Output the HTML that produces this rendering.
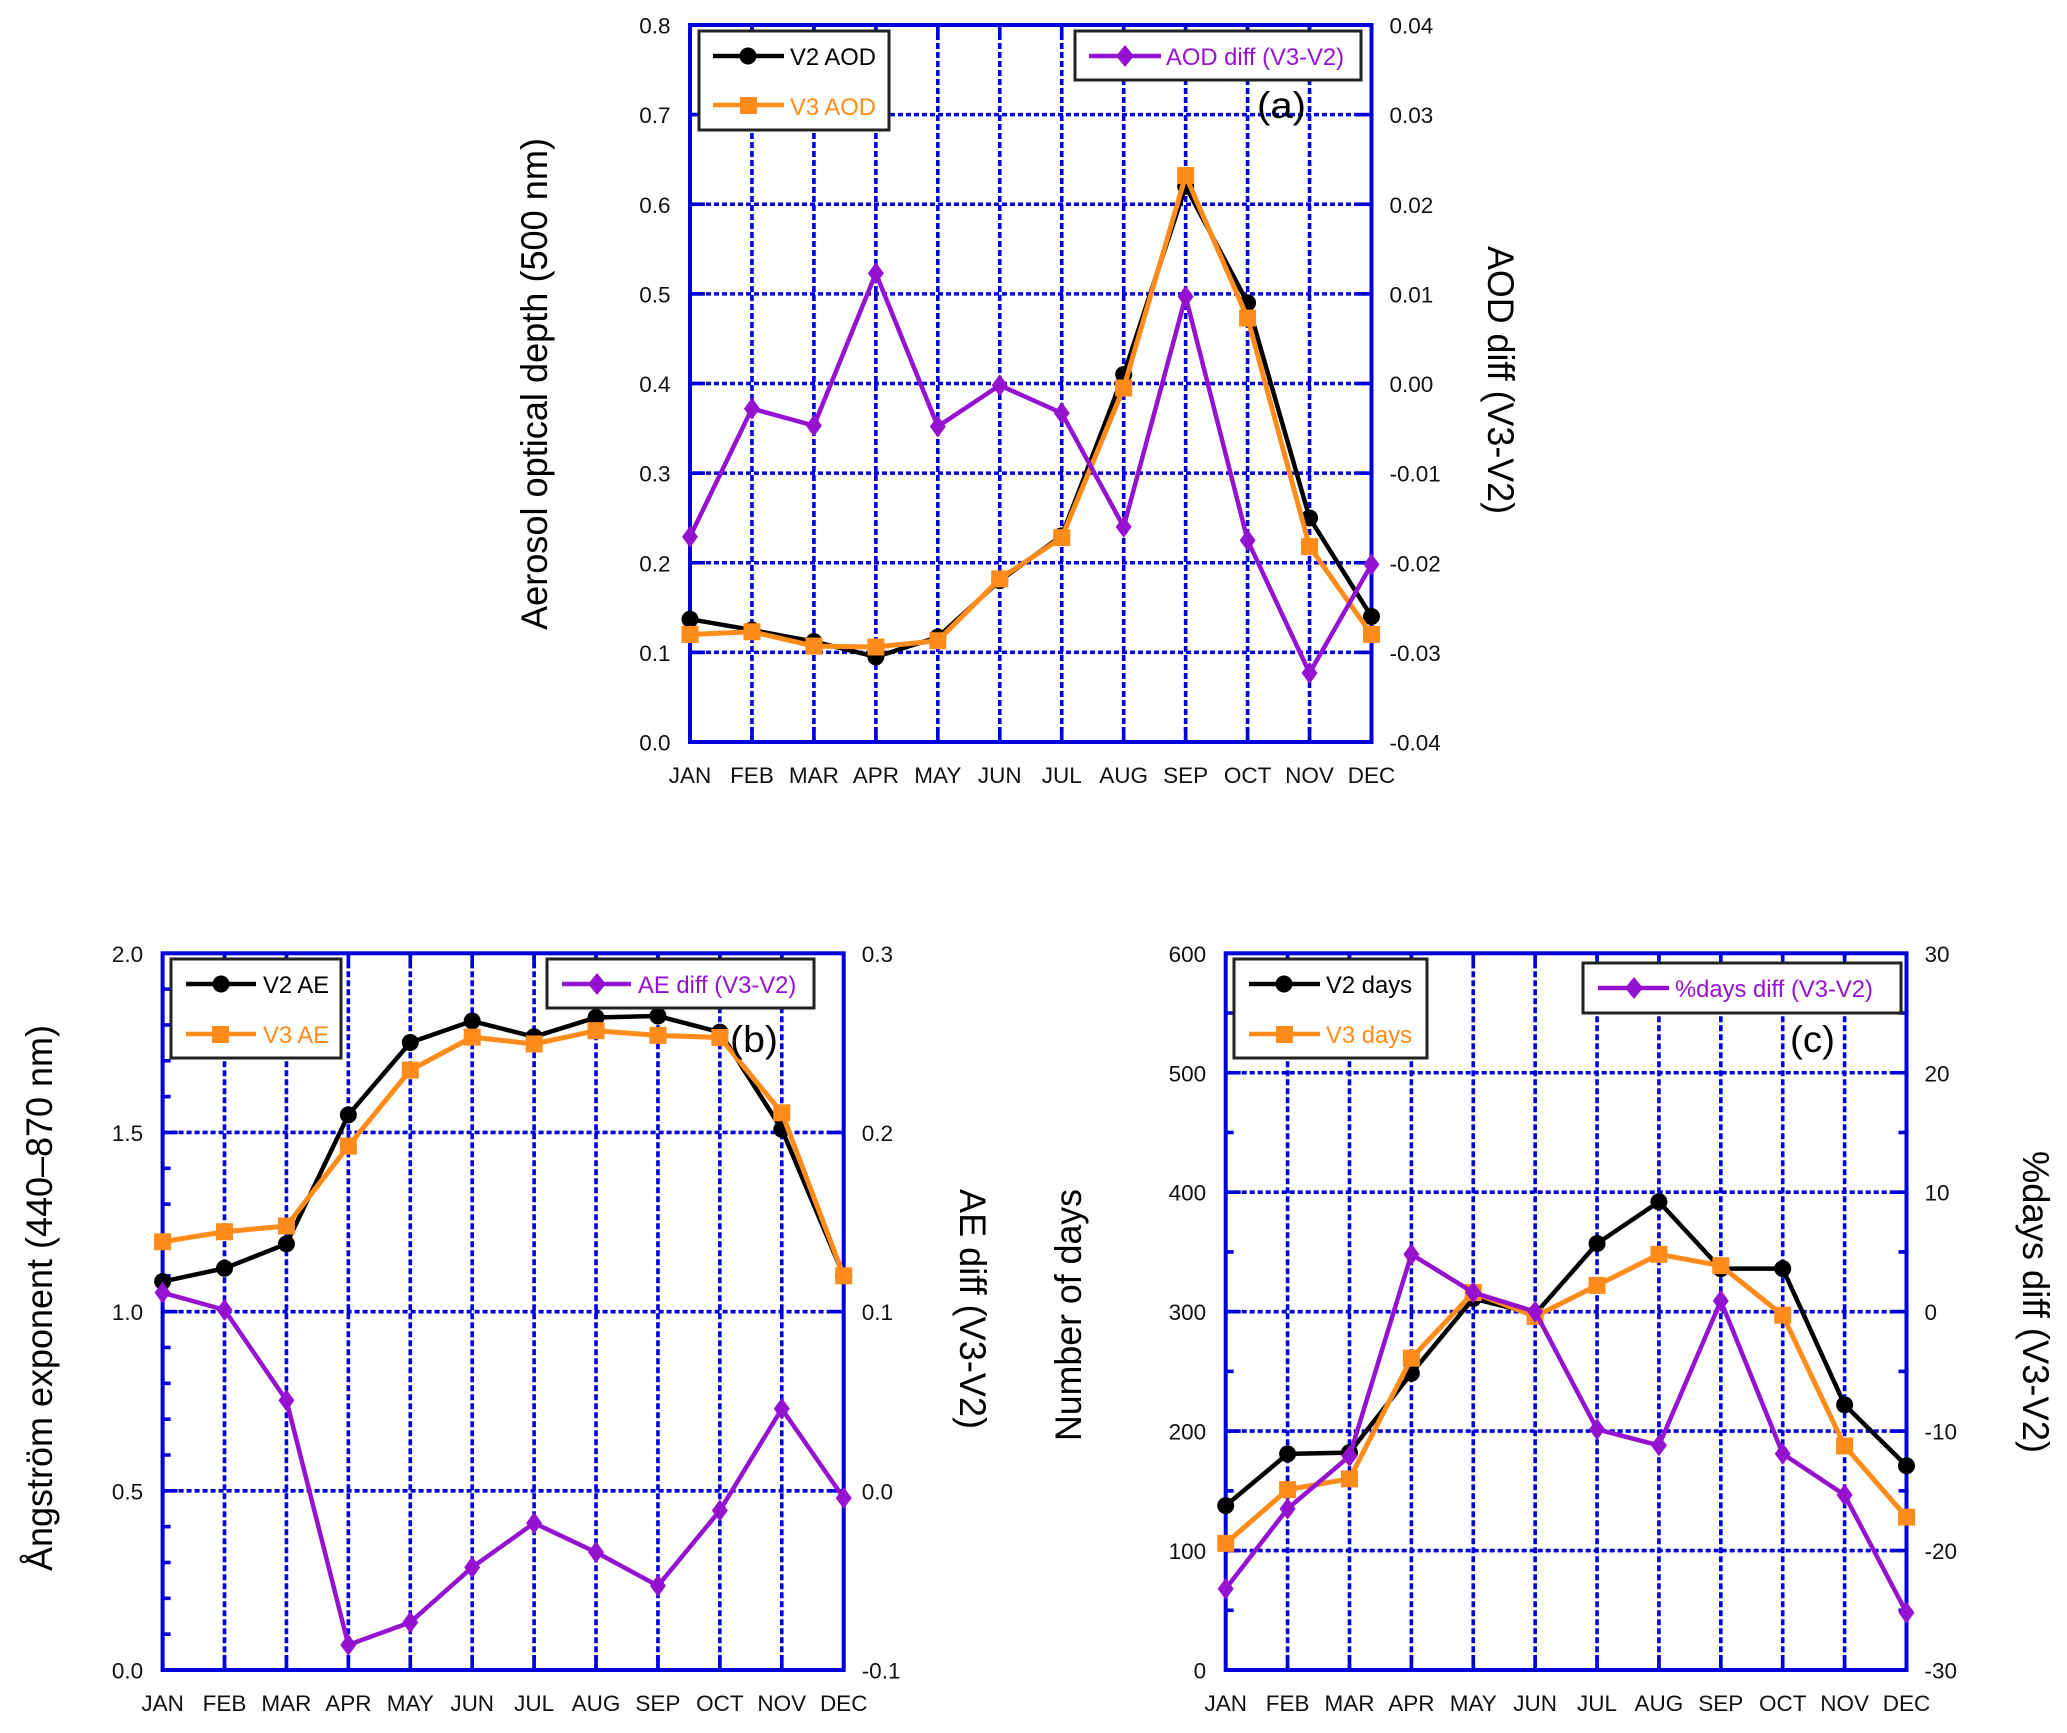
<!DOCTYPE html>
<html lang="en">
<head>
<meta charset="utf-8">
<title>AERONET V2 and V3 monthly comparison</title>
<style>
html,body{margin:0;padding:0;background:#fff;}
svg{display:block;font-family:"Liberation Sans",Arial,sans-serif;}
.tick{font-size:22.5px;fill:#111;}
.title{font-size:37px;fill:#000;}
.letter{font-size:37px;fill:#000;}
.leg{font-size:23.8px;}
.box{fill:#fff;stroke:#222;stroke-width:3;}
</style>
</head>
<body>
<svg id="chart" width="2067" height="1733" viewBox="0 0 2067 1733" xmlns="http://www.w3.org/2000/svg">
<rect width="2067" height="1733" fill="#fff"/>

<g id="panel-a">
  <g id="marks-a"></g>
  <text class="letter" x="1257" y="118" textLength="49" lengthAdjust="spacingAndGlyphs">(a)</text>
  <text class="title" transform="translate(547 384) rotate(-90)" text-anchor="middle" textLength="492" lengthAdjust="spacingAndGlyphs">Aerosol optical depth (500 nm)</text>
  <text class="title" transform="translate(1488 380) rotate(90)" text-anchor="middle" textLength="268" lengthAdjust="spacingAndGlyphs">AOD diff (V3-V2)</text>
  <g>
    <rect class="box" x="699" y="31" width="190" height="99"/>
    <line x1="713" y1="56" x2="784" y2="56" stroke="#000" stroke-width="4.5"/>
    <circle cx="748" cy="56" r="8.5" fill="#000"/>
    <text class="leg" x="790" y="65" fill="#000">V2 AOD</text>
    <line x1="713" y1="105" x2="784" y2="105" stroke="#ff8c1a" stroke-width="4.5"/>
    <rect x="740" y="97" width="17" height="17" fill="#ff8c1a"/>
    <text class="leg" x="790" y="115" fill="#ff8c1a">V3 AOD</text>
  </g>
  <g>
    <rect class="box" x="1075" y="31" width="286" height="49"/>
    <line x1="1089" y1="56" x2="1161" y2="56" stroke="#9512d1" stroke-width="4.5"/>
    <polygon points="1125,45 1134,56 1125,67 1116,56" fill="#9512d1"/>
    <text class="leg" x="1166" y="65" fill="#9512d1">AOD diff (V3-V2)</text>
  </g>
</g>

<g id="panel-b">
  <g id="marks-b"></g>
  <text class="letter" x="730" y="1052" textLength="48" lengthAdjust="spacingAndGlyphs">(b)</text>
  <text class="title" transform="translate(52 1298) rotate(-90)" text-anchor="middle" textLength="546" lengthAdjust="spacingAndGlyphs">Ångström exponent (440–870 nm)</text>
  <text class="title" transform="translate(960 1309) rotate(90)" text-anchor="middle" textLength="240" lengthAdjust="spacingAndGlyphs">AE diff (V3-V2)</text>
  <g>
    <rect class="box" x="171" y="959" width="170" height="99"/>
    <line x1="186" y1="984" x2="256" y2="984" stroke="#000" stroke-width="4.5"/>
    <circle cx="221" cy="984" r="8.5" fill="#000"/>
    <text class="leg" x="263" y="993" fill="#000">V2 AE</text>
    <line x1="186" y1="1034" x2="256" y2="1034" stroke="#ff8c1a" stroke-width="4.5"/>
    <rect x="212" y="1026" width="17" height="17" fill="#ff8c1a"/>
    <text class="leg" x="263" y="1043" fill="#ff8c1a">V3 AE</text>
  </g>
  <g>
    <rect class="box" x="547" y="959" width="267" height="49"/>
    <line x1="562" y1="984" x2="631" y2="984" stroke="#9512d1" stroke-width="4.5"/>
    <polygon points="597,973 606,984 597,995 588,984" fill="#9512d1"/>
    <text class="leg" x="638" y="993" fill="#9512d1">AE diff (V3-V2)</text>
  </g>
</g>

<g id="panel-c">
  <g id="marks-c"></g>
  <text class="letter" x="1790" y="1052" textLength="45" lengthAdjust="spacingAndGlyphs">(c)</text>
  <text class="title" transform="translate(1081 1315) rotate(-90)" text-anchor="middle" textLength="252" lengthAdjust="spacingAndGlyphs">Number of days</text>
  <text class="title" transform="translate(2023 1302) rotate(90)" text-anchor="middle" textLength="302" lengthAdjust="spacingAndGlyphs">%days diff (V3-V2)</text>
  <g>
    <rect class="box" x="1234" y="959" width="193" height="99"/>
    <line x1="1249" y1="984" x2="1320" y2="984" stroke="#000" stroke-width="4.5"/>
    <circle cx="1284" cy="984" r="8.5" fill="#000"/>
    <text class="leg" x="1326" y="993" fill="#000">V2 days</text>
    <line x1="1249" y1="1034" x2="1320" y2="1034" stroke="#ff8c1a" stroke-width="4.5"/>
    <rect x="1276" y="1026" width="17" height="17" fill="#ff8c1a"/>
    <text class="leg" x="1326" y="1043" fill="#ff8c1a">V3 days</text>
  </g>
  <g>
    <rect class="box" x="1583" y="963" width="318" height="50"/>
    <line x1="1598" y1="988" x2="1669" y2="988" stroke="#9512d1" stroke-width="4.5"/>
    <polygon points="1634,977 1643,988 1634,999 1625,988" fill="#9512d1"/>
    <text class="leg" x="1675" y="997" fill="#9512d1">%days diff (V3-V2)</text>
  </g>
</g>
</svg>

<script>
// Shared categories
const months = ['JAN','FEB','MAR','APR','MAY','JUN','JUL','AUG','SEP','OCT','NOV','DEC'];

// Panel (a) data
const v2Aod = [0.137,0.125,0.112,0.095,0.117,0.180,0.230,0.410,0.620,0.490,0.250,0.140];
const v3Aod = [0.120,0.123,0.107,0.106,0.113,0.182,0.228,0.395,0.632,0.473,0.218,0.120];
const aodDiff = [-0.0171,-0.0028,-0.0047,0.0123,-0.0048,-0.0002,-0.0033,-0.0160,0.0097,-0.0175,-0.0323,-0.0202];
const aodLeftTicks = ['0.0','0.1','0.2','0.3','0.4','0.5','0.6','0.7','0.8'];
const aodRightTicks = ['-0.04','-0.03','-0.02','-0.01','0.00','0.01','0.02','0.03','0.04'];

// Panel (b) data
const v2Ae = [1.084,1.121,1.189,1.549,1.751,1.811,1.767,1.821,1.825,1.780,1.509,1.100];
const v3Ae = [1.195,1.223,1.239,1.462,1.674,1.766,1.747,1.784,1.771,1.765,1.555,1.100];
const aeDiff = [0.1106,0.1010,0.0505,-0.0860,-0.0734,-0.0427,-0.0180,-0.0343,-0.0530,-0.0110,0.0458,-0.0040];
const aeLeftTicks = ['0.0','0.5','1.0','1.5','2.0'];
const aeRightTicks = ['-0.1','0.0','0.1','0.2','0.3'];
const aeLeftMinor = [0.1,0.2,0.3,0.4,0.6,0.7,0.8,0.9,1.1,1.2,1.3,1.4,1.6,1.7,1.8,1.9];

// Panel (c) data
const v2Days = [137.6,180.9,182,248.4,311,298,357,392,336,336,222,171];
const v3Days = [106,151,160,261,316,296,322,348,338.5,297,187.5,128];
const daysDiff = [-23.2,-16.5,-12.1,4.8,1.6,0,-9.85,-11.2,0.9,-11.9,-15.35,-25.2];
const daysLeftTicks = ['0','100','200','300','400','500','600'];
const daysRightTicks = ['-30','-20','-10','0','10','20','30'];
const daysLeftMinor = [50,150,250,350,450,550];
const daysRightMinor = [-25,-15,-5,5,15,25];

const NS = 'http://www.w3.org/2000/svg';
const BLUE = '#0000dc', ORANGE = '#ff8c1a', PURPLE = '#9512d1', BLACK = '#000';

function mk(tag, parent) {
  const e = document.createElementNS(NS, tag);
  parent.appendChild(e);
  return e;
}
function drawLine(parent, x1, y1, x2, y2, color, width, dash) {
  const l = mk('line', parent);
  l.setAttribute('x1', x1); l.setAttribute('y1', y1);
  l.setAttribute('x2', x2); l.setAttribute('y2', y2);
  l.setAttribute('stroke', color); l.setAttribute('stroke-width', width);
  if (dash) l.setAttribute('stroke-dasharray', dash);
  return l;
}
function label(parent, x, y, txt, anchor) {
  const t = mk('text', parent);
  t.setAttribute('class', 'tick');
  t.setAttribute('x', x); t.setAttribute('y', y);
  t.setAttribute('text-anchor', anchor);
  t.textContent = txt;
  return t;
}
function series(parent, name, values, xFn, yFn, color, width, shape) {
  const g = mk('g', parent);
  
  
  const p = mk('polyline', g);
  
  
  p.setAttribute('fill', 'none');
  p.setAttribute('stroke', color);
  p.setAttribute('stroke-width', width);
  p.setAttribute('stroke-linejoin', 'round');
  p.setAttribute('points', values.map((v, i) => xFn(i) + ',' + yFn(v)).join(' '));
  values.forEach((v, i) => {
    const x = xFn(i), y = yFn(v);
    let m;
    if (shape === 'circle') {
      m = mk('circle', g);
      m.setAttribute('cx', x); m.setAttribute('cy', y); m.setAttribute('r', 8.5);
    } else if (shape === 'square') {
      m = mk('rect', g);
      m.setAttribute('x', x - 8.5); m.setAttribute('y', y - 8.5);
      m.setAttribute('width', 17); m.setAttribute('height', 17);
    } else {
      m = mk('polygon', g);
      m.setAttribute('points', [[x, y - 11], [x + 8, y], [x, y + 11], [x - 8, y]].map(q => q.join(',')).join(' '));
    }
    m.setAttribute('fill', color);
    
    
  });
}

function drawPanel(id, frame, leftTicks, rightTicks, leftMinor, rightMinor, s1, s2, s3, names) {
  const root = document.getElementById(id);
  const L = frame.left, R = frame.right, T = frame.top, B = frame.bottom;
  const lv = leftTicks.map(Number), rv = rightTicks.map(Number);
  const lMin = lv[0], lMax = lv[lv.length - 1], rMin = rv[0], rMax = rv[rv.length - 1];
  const xScale = i => L + (R - L) * i / (months.length - 1);
  const yLeft = v => B - (B - T) * (v - lMin) / (lMax - lMin);
  const yRight = v => B - (B - T) * (v - rMin) / (rMax - rMin);

  const grid = mk('g', root);
  
  
  months.forEach((m, i) => {
    if (i > 0 && i < months.length - 1) {
      drawLine(grid, xScale(i), T, xScale(i), B, BLUE, 3.6, '6 3');
      drawLine(grid, xScale(i), T, xScale(i), T + 15, BLUE, 3.6);
      drawLine(grid, xScale(i), B - 15, xScale(i), B, BLUE, 3.6);
    }
  });
  lv.forEach(v => {
    if (v > lMin && v < lMax) {
      drawLine(grid, L, yLeft(v), R, yLeft(v), BLUE, 3.6, '5 3');
      drawLine(grid, L, yLeft(v), L + 15, yLeft(v), BLUE, 3.6);
      drawLine(grid, R - 15, yLeft(v), R, yLeft(v), BLUE, 3.6);
    }
  });
  leftMinor.forEach(v => {
    drawLine(grid, L, yLeft(v), L + 8, yLeft(v), BLUE, 3.6);
  });
  rightMinor.forEach(v => {
    drawLine(grid, R - 8, yRight(v), R, yRight(v), BLUE, 3.6);
  });

  const frameRect = mk('rect', root);
  
  
  frameRect.setAttribute('x', L); frameRect.setAttribute('y', T);
  frameRect.setAttribute('width', R - L); frameRect.setAttribute('height', B - T);
  frameRect.setAttribute('fill', 'none');
  frameRect.setAttribute('stroke', BLUE);
  frameRect.setAttribute('stroke-width', 4);

  const lg = mk('g', root);
  
  
  leftTicks.forEach(t => {
    const n = label(lg, L - 19.5, yLeft(Number(t)) + 8.5, t, 'end');
    
    
  });
  const rg = mk('g', root);
  
  
  rightTicks.forEach(t => {
    const n = label(rg, R + 18, yRight(Number(t)) + 8.5, t, 'start');
    
    
  });
  const xg = mk('g', root);
  
  
  months.forEach((m, i) => {
    const n = label(xg, xScale(i), B + 41, m, 'middle');
    
    
  });

  series(root, names[0], s1, xScale, yLeft, BLACK, 4.5, 'circle');
  series(root, names[1], s2, xScale, yLeft, ORANGE, 5, 'square');
  series(root, names[2], s3, xScale, yRight, PURPLE, 4.5, 'diamond');
}

drawPanel('marks-a', {left: 690, right: 1371.5, top: 25, bottom: 742},
  aodLeftTicks, aodRightTicks, [], [], v2Aod, v3Aod, aodDiff, ['v2-aod', 'v3-aod', 'aod-diff']);
drawPanel('marks-b', {left: 162.6, right: 843.7, top: 953.3, bottom: 1670},
  aeLeftTicks, aeRightTicks, aeLeftMinor, [], v2Ae, v3Ae, aeDiff, ['v2-ae', 'v3-ae', 'ae-diff']);
drawPanel('marks-c', {left: 1225.7, right: 1906.5, top: 953.3, bottom: 1670},
  daysLeftTicks, daysRightTicks, daysLeftMinor, daysRightMinor, v2Days, v3Days, daysDiff, ['v2-days', 'v3-days', 'days-diff']);
</script>
</body>
</html>
